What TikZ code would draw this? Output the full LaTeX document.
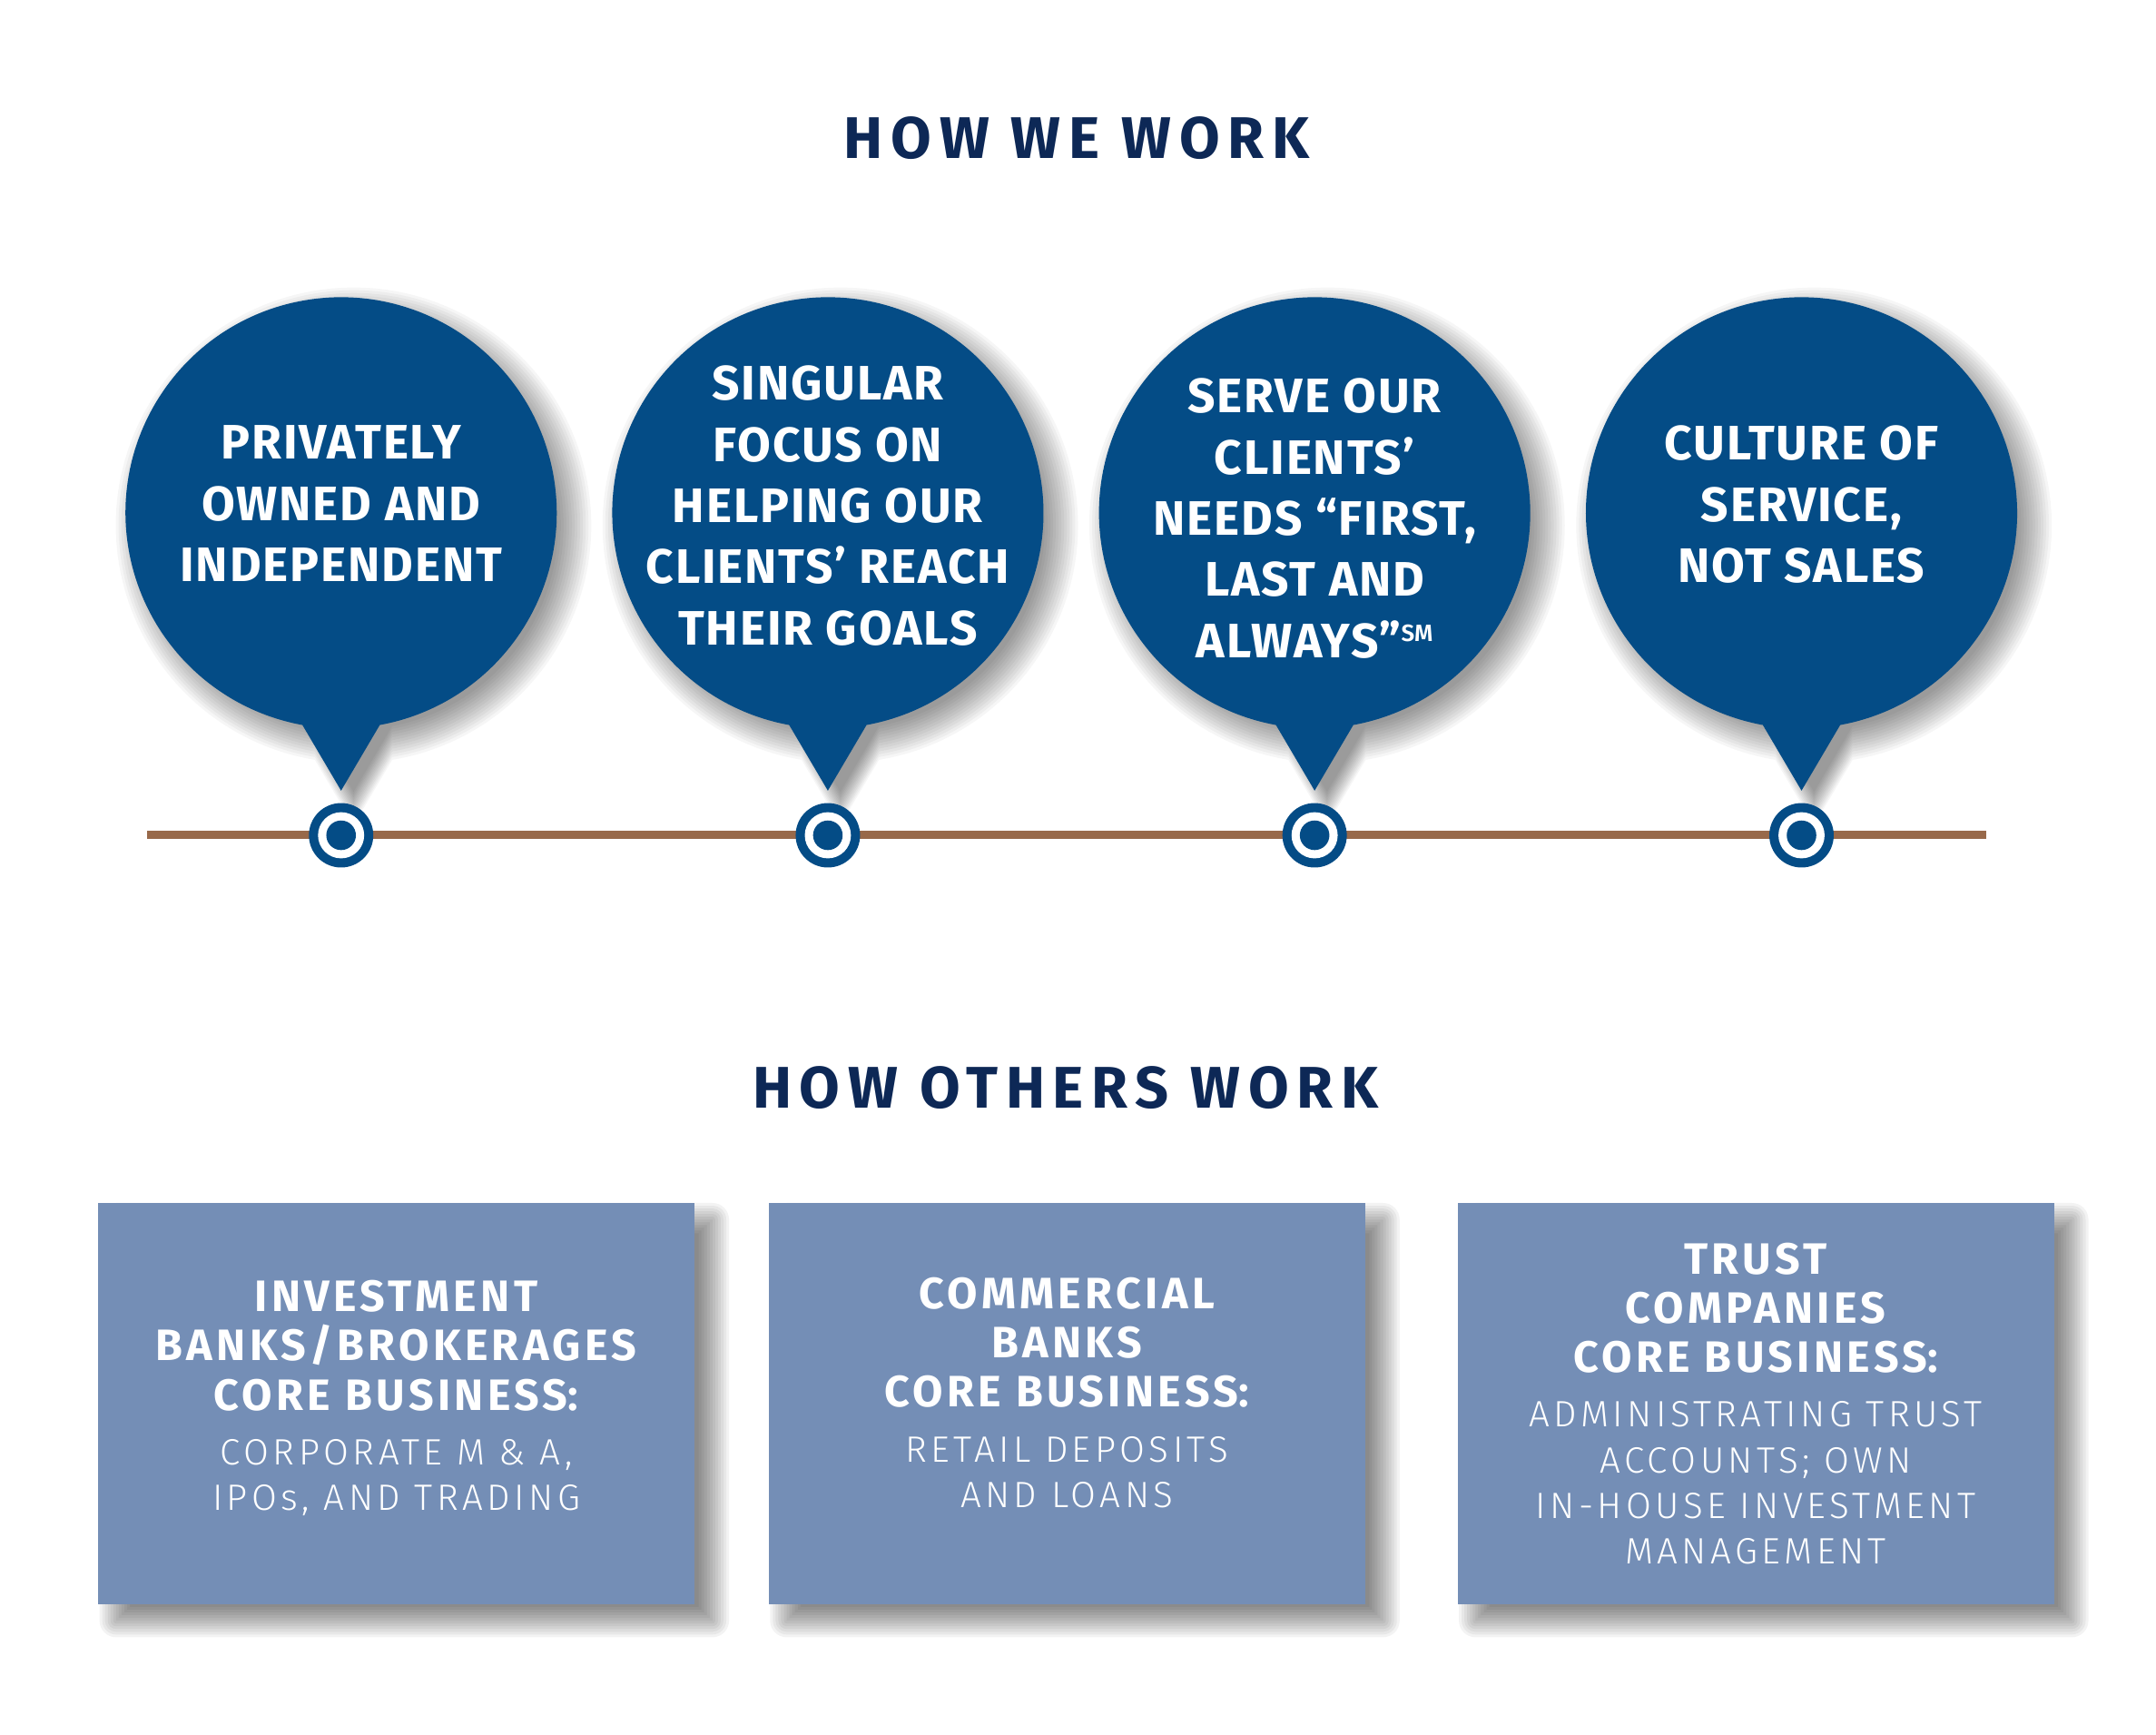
\documentclass[tikz,border=0pt]{standalone}
\usepackage{fontspec}
\setmainfont{Fira Sans}
\newfontfamily\thinfont{Fira Sans Light}
\newfontfamily\thinwide{Fira Sans Light}[LetterSpace=11]
\newfontfamily\headwide{Fira Sans}[LetterSpace=9]
\newfontfamily\bubblewide{Fira Sans}[LetterSpace=3.5]
\newfontfamily\titlewide{Fira Sans}[LetterSpace=13.5]
\usepackage{tikz}
\definecolor{navy}{RGB}{13,40,86}
\definecolor{bubbleblue}{RGB}{4,76,134}
\definecolor{boxblue}{RGB}{116,142,182}
\definecolor{linebrown}{RGB}{152,105,74}
\newcommand\servicemark{\raisebox{11.6pt}{\fontsize{17}{17}\selectfont\thinfont SM}}

\begin{document}
\begin{tikzpicture}[x=1pt,y=-1pt,
    heading/.style={text=navy,anchor=base,inner sep=0pt,font=\fontsize{42.5}{50}\selectfont\titlewide\bfseries},
    softshadow/.style={fill=black,opacity=#1},
    bubbletext/.style={text=white,align=center,anchor=north,inner sep=0pt,font=\fontsize{35}{44.2}\selectfont\bubblewide\bfseries},
    otherbox/.style={fill=boxblue,minimum width=431.5pt,minimum height=290.2pt,inner sep=0pt},
    boxhead/.style={text=white,align=center,anchor=north,inner sep=0pt,font=\fontsize{31.8}{35.6}\selectfont\headwide\bfseries},
    boxbody/.style={text=white,align=center,anchor=north,inner sep=0pt,font=\fontsize{26.5}{33}\selectfont\thinwide},
    timeline/.style={linebrown,line width=6.4pt}]
    \fill[white] (0,0) rectangle (1560,1255.2);
    \useasboundingbox (0,0) rectangle (1560,1255.2);

    % how we work
    \node[heading] (wetitle) at (779,114.9) {HOW WE WORK};
    \coordinate (lineleft) at (106.5,604);
    \coordinate (lineright) at (1437,604);
    \draw[timeline] (lineleft) -- (lineright);
    \foreach \x in {246.8,599,951.2,1303.5} {
      % blurred shadow, layer by layer
      \foreach \r in {-8,-6,...,16} {
        \pgfmathsetmacro\R{156+\r}
        \pgfmathsetmacro\a{asin(28/\R)}
        \fill[softshadow=0.035] ([shift={(\x+9,380)}] -90+\a:\R pt)
          arc[start angle=-90+\a,end angle=270-\a,radius=\R pt] -- (\x+9,581+\r) -- cycle;
      }
      \fill[bubbleblue] (\x+28,524.5) arc[start angle=-79.66,end angle=259.66,radius=156pt]
        -- (\x,572) -- cycle;
      \fill[bubbleblue] (\x,604.3) circle[radius=23.3pt];
      \fill[white] (\x,604.3) circle[radius=16.7pt];
      \fill[bubbleblue] (\x,604.3) circle[radius=10.7pt];
    }
    \node[bubbletext] (owned) at (246.8,307.9) {PRIVATELY\\OWNED AND\\INDEPENDENT};
    \node[bubbletext] (focus) at (599,264.6) {SINGULAR\\FOCUS ON\\HELPING OUR\\CLIENTS’ REACH\\THEIR GOALS};
    \node[bubbletext] (serve) at (951.2,273.7) {SERVE OUR\\CLIENTS’\\NEEDS “FIRST,\\LAST AND\\ALWAYS”\servicemark};
    \node[bubbletext] (culture) at (1303.5,307.9) {CULTURE OF\\SERVICE,\\NOT SALES};

    % how others work
    \node[heading] (otherstitle) at (771,801.6) {HOW OTHERS WORK};
    \foreach \x in {71,556.2,1054.6} {
      \foreach \r in {-10,-8,...,12} {
        \pgfmathsetmacro\rc{max(\r,0.01)}
        \fill[softshadow=0.048,rounded corners=\rc pt] (\x+13-\r,882.3-\r) rectangle (\x+444.5+\r,1172.5+\r);
      }
    }
    \node[otherbox] (invest) at (286.75,1015.4) {};
    \node[otherbox] (commercial) at (771.95,1015.4) {};
    \node[otherbox] (trust) at (1270.35,1015.4) {};
    \node[boxhead] (investhead) at (286.75,926.2) {INVESTMENT\\BANKS/BROKERAGES\\CORE BUSINESS{\thinfont:}};
    \node[boxbody] (investbody) at (286.75,1041.2) {CORPORATE M \& A,\\IPOs, AND TRADING};
    \node[boxhead] (commercialhead) at (771.95,924) {COMMERCIAL\\BANKS\\CORE BUSINESS{\thinfont:}};
    \node[boxbody] (commercialbody) at (771.95,1039) {RETAIL DEPOSITS\\AND LOANS};
    \node[boxhead] (trusthead) at (1270.35,898.8) {TRUST\\COMPANIES\\CORE BUSINESS{\thinfont:}};
    \node[boxbody] (trustbody) at (1270.35,1013.8) {ADMINISTRATING TRUST\\ACCOUNTS; OWN\\IN-HOUSE INVESTMENT\\MANAGEMENT};
\end{tikzpicture}
\end{document}
